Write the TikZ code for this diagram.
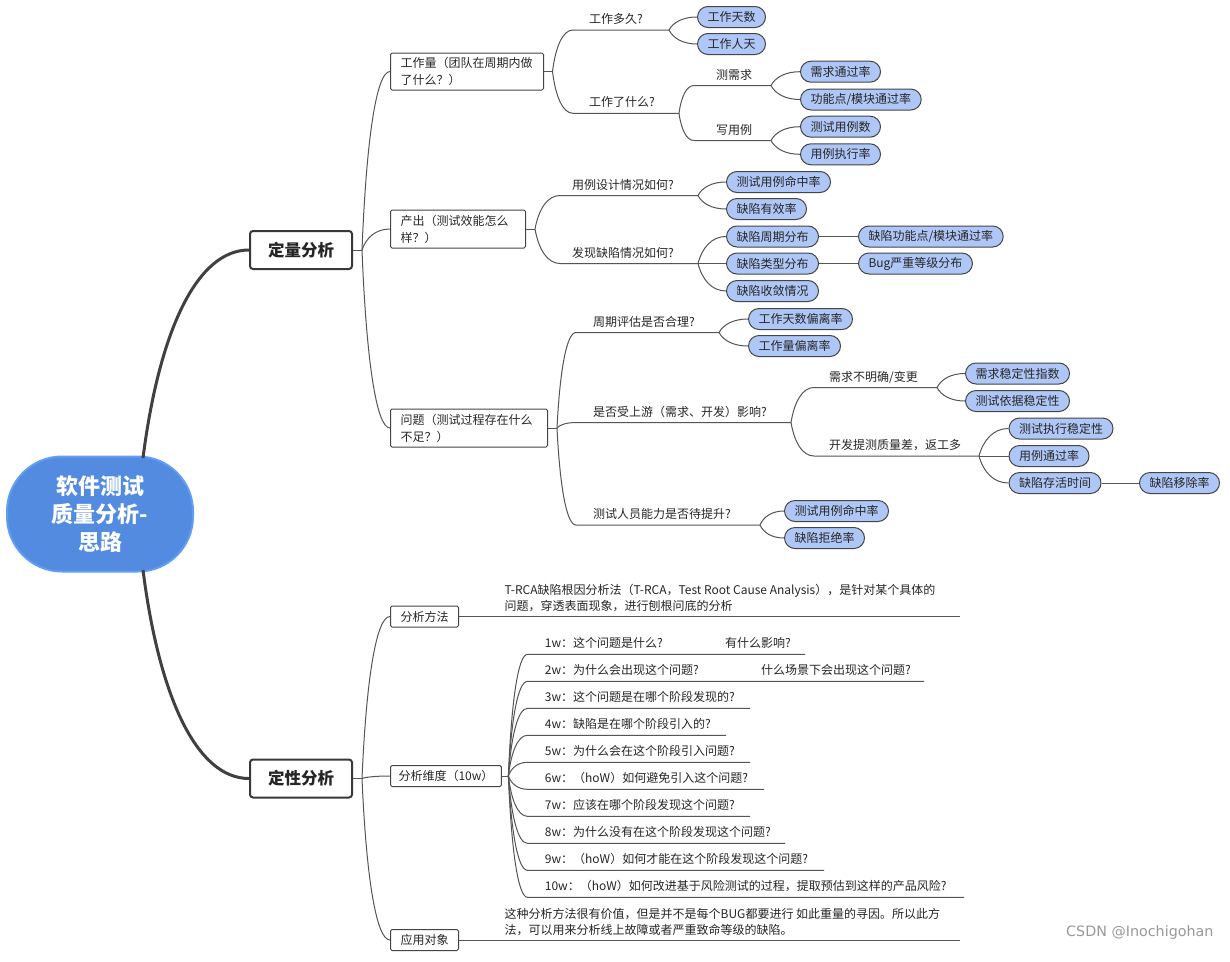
\documentclass[tikz,border=0pt]{standalone}
\usepackage{fontspec}
\setmainfont{Noto Sans CJK SC}
\newfontfamily\wmfont{DejaVu Sans}
\usetikzlibrary{calc}
\definecolor{pillfill}{HTML}{AFC7F7}
\definecolor{linec}{HTML}{555555}
\definecolor{edgec}{HTML}{454545}
\definecolor{rootfill}{HTML}{528BE0}
\definecolor{rootedge}{HTML}{629DF4}
\definecolor{txt}{HTML}{262626}
\tikzset{
  x=1pt, y=-1pt,
  every node/.style={font=\fontsize{12pt}{17pt}\selectfont, text=txt},
  pill/.style={draw=edgec, fill=pillfill, rounded corners=10.5pt, minimum height=21pt,
    inner xsep=10pt, inner ysep=0pt, anchor=west, line width=1pt},
  lbl/.style={anchor=west, inner sep=0pt},
  box/.style={draw=edgec, rounded corners=1.5pt, line width=1pt, align=left,
    inner xsep=10pt, inner ysep=2pt, anchor=west},
  topbox/.style={draw=black!78, fill=white, rounded corners=3pt, line width=2pt,
    font=\fontsize{16.5pt}{20pt}\selectfont\bfseries, minimum width=102pt, minimum height=38pt},
  rootnode/.style={draw=rootedge, fill=rootfill, line width=2pt, rounded corners=55pt,
    minimum width=186pt, minimum height=115pt, text=white, align=center,
    font=\fontsize{22pt}{28pt}\selectfont\bfseries},
  conn/.style={draw=linec, line width=1pt},
  trunk/.style={draw=black!75, line width=3pt},
  curvy/.style={to path={let \p1=(\tikztostart), \p2=(\tikztotarget) in
    .. controls ({\x1+0.15*(\x2-\x1)},{\y1+0.6*(\y2-\y1)}) and ({\x1+0.5*(\x2-\x1)},{\y2}) .. (\tikztotarget)}},
}
\begin{document}
\begin{tikzpicture}
\useasboundingbox (0,0) rectangle (1230,961);
\fill[white] (0,0) rectangle (1230,961);

% ---------- root and level 1 ----------
\node[rootnode] (root) at (100,514) {软件测试\\质量分析-\\思路};
\coordinate (rt) at (143,458);
\coordinate (rb) at (143,570);
\node[topbox] (q1) at (301,250) {定量分析};
\node[topbox] (q2) at (301,778.5) {定性分析};
\draw[trunk] (rt) to[curvy] (q1.west);
\draw[trunk] (rb) to[curvy] (q2.west);

% ---------- level 2 (定量) ----------
\coordinate (j1) at (362,250);
\draw[conn] (q1.east) -- (j1);
\node[box, text width=133pt, minimum height=37pt] (b1) at (390,71.5) {工作量（团队在周期内做\\了什么？）};
\node[box, text width=115pt, minimum height=38pt] (b2) at (390,229) {产出（测试效能怎么\\样？）};
\node[box, text width=137pt, minimum height=38pt] (b3) at (390,428) {问题（测试过程存在什么\\不足？）};
\draw[conn] (j1) to[curvy] (b1.west);
\draw[conn] (j1) to[curvy] (b2.west);
\draw[conn] (j1) to[curvy] (b3.west);

% ---------- 工作量 ----------
\coordinate (j11) at (552.5,71.5);
\draw[conn] (b1.east) -- (j11);
\node[lbl] (l11) at (589,19) {工作多久?};
\coordinate (l11s) at (573,30); \coordinate (l11e) at (669,30);
\draw[conn] (j11) to[curvy] (l11s) -- (l11e);
\node[pill] (p111) at (697,17) {工作天数};
\node[pill] (p112) at (697,44) {工作人天};
\draw[conn] (l11e) to[curvy] (p111.west);
\draw[conn] (l11e) to[curvy] (p112.west);

\node[lbl] (l12) at (589,102) {工作了什么?};
\coordinate (l12s) at (573,113.3); \coordinate (l12e) at (679,113.3);
\draw[conn] (j11) to[curvy] (l12s) -- (l12e);

\node[lbl] (l121) at (716,75) {测需求};
\coordinate (l121s) at (694,85.5); \coordinate (l121e) at (771,85.5);
\draw[conn] (l12e) to[curvy] (l121s) -- (l121e);
\node[pill] (p1211) at (800,71.7) {需求通过率};
\node[pill] (p1212) at (800,99.5) {功能点/模块通过率};
\draw[conn] (l121e) to[curvy] (p1211.west);
\draw[conn] (l121e) to[curvy] (p1212.west);

\node[lbl] (l122) at (716,130) {写用例};
\coordinate (l122s) at (694,140.5); \coordinate (l122e) at (771,140.5);
\draw[conn] (l12e) to[curvy] (l122s) -- (l122e);
\node[pill] (p1221) at (800,126.7) {测试用例数};
\node[pill] (p1222) at (800,154.3) {用例执行率};
\draw[conn] (l122e) to[curvy] (p1221.west);
\draw[conn] (l122e) to[curvy] (p1222.west);

% ---------- 产出 ----------
\coordinate (j12) at (535,229);
\draw[conn] (b2.east) -- (j12);
\node[lbl] (l21) at (572,185) {用例设计情况如何?};
\coordinate (l21s) at (560,195.5); \coordinate (l21e) at (698,195.5);
\draw[conn] (j12) to[curvy] (l21s) -- (l21e);
\node[pill] (p211) at (726,182) {测试用例命中率};
\node[pill] (p212) at (726,209) {缺陷有效率};
\draw[conn] (l21e) to[curvy] (p211.west);
\draw[conn] (l21e) to[curvy] (p212.west);

\node[lbl] (l22) at (572,253) {发现缺陷情况如何?};
\coordinate (l22s) at (560,263.5); \coordinate (l22e) at (698,263.5);
\draw[conn] (j12) to[curvy] (l22s) -- (l22e);
\node[pill] (p221) at (726,236.5) {缺陷周期分布};
\node[pill] (p222) at (726,263.5) {缺陷类型分布};
\node[pill] (p223) at (726,291) {缺陷收敛情况};
\draw[conn] (l22e) to[curvy] (p221.west);
\draw[conn] (l22e) -- (p222.west);
\draw[conn] (l22e) to[curvy] (p223.west);
\node[pill] (p2211) at (858,236.5) {缺陷功能点/模块通过率};
\node[pill] (p2221) at (858,263.5) {Bug严重等级分布};
\draw[conn] (p221.east) -- (p2211.west);
\draw[conn] (p222.east) -- (p2221.west);

% ---------- 问题 ----------
\coordinate (j13) at (557,428);
\draw[conn] (b3.east) -- (j13);
\node[lbl] (l31) at (593,321.5) {周期评估是否合理?};
\coordinate (l31s) at (576,332.5); \coordinate (l31e) at (719,332.5);
\draw[conn] (j13) to[curvy] (l31s) -- (l31e);
\node[pill] (p311) at (748,319) {工作天数偏离率};
\node[pill] (p312) at (748,346) {工作量偏离率};
\draw[conn] (l31e) to[curvy] (p311.west);
\draw[conn] (l31e) to[curvy] (p312.west);

\node[lbl] (l32) at (593,411.5) {是否受上游（需求、开发）影响?};
\coordinate (l32s) at (576,422.5); \coordinate (l32e) at (791,422.5);
\draw[conn] (j13) to[curvy] (l32s) -- (l32e);

\node[lbl] (l321) at (829,377) {需求不明确/变更};
\coordinate (l321s) at (814,387.5); \coordinate (l321e) at (937,387.5);
\draw[conn] (l32e) to[curvy] (l321s) -- (l321e);
\node[pill] (p3211) at (965,373.5) {需求稳定性指数};
\node[pill] (p3212) at (965,401) {测试依据稳定性};
\draw[conn] (l321e) to[curvy] (p3211.west);
\draw[conn] (l321e) to[curvy] (p3212.west);

\node[lbl] (l322) at (829,445) {开发提测质量差，返工多};
\coordinate (l322s) at (814,456); \coordinate (l322e) at (979,456);
\draw[conn] (l32e) to[curvy] (l322s) -- (l322e);
\node[pill] (p3221) at (1008.5,428.5) {测试执行稳定性};
\node[pill] (p3222) at (1008.5,456) {用例通过率};
\node[pill] (p3223) at (1008.5,483) {缺陷存活时间};
\draw[conn] (l322e) to[curvy] (p3221.west);
\draw[conn] (l322e) -- (p3222.west);
\draw[conn] (l322e) to[curvy] (p3223.west);
\node[pill] (p32231) at (1139,483) {缺陷移除率};
\draw[conn] (p3223.east) -- (p32231.west);

\node[lbl] (l33) at (593,514) {测试人员能力是否待提升?};
\coordinate (l33s) at (576,525); \coordinate (l33e) at (760,525);
\draw[conn] (j13) to[curvy] (l33s) -- (l33e);
\node[pill] (p331) at (784,511) {测试用例命中率};
\node[pill] (p332) at (784,538) {缺陷拒绝率};
\draw[conn] (l33e) to[curvy] (p331.west);
\draw[conn] (l33e) to[curvy] (p332.west);

% ---------- 定性 ----------
\coordinate (j2) at (362,778.5);
\draw[conn] (q2.east) -- (j2);
\node[box, minimum height=21pt, inner ysep=0pt] (b4) at (390,616.5) {分析方法};
\node[box, minimum height=21pt, inner ysep=0pt, inner xsep=8pt] (b5) at (390,776) {分析维度（10w）};
\node[box, minimum height=21pt, inner ysep=0pt] (b6) at (390,940) {应用对象};
\draw[conn] (j2) to[curvy] (b4.west);
\draw[conn] (j2) to[curvy] (b5.west);
\draw[conn] (j2) to[curvy] (b6.west);

\coordinate (b4e) at (960,616.5);
\draw[conn] (b4.east) -- (b4e);
\node[anchor=west, inner sep=0pt, align=left, font=\fontsize{12pt}{16pt}\selectfont] (t4) at (504.5,598)
  {T-RCA缺陷根因分析法（T-RCA，Test Root Cause Analysis），是针对某个具体的\\问题，穿透表面现象，进行刨根问底的分析};

\coordinate (b6e) at (960,940);
\draw[conn] (b6.east) -- (b6e);
\node[anchor=west, inner sep=0pt, align=left, font=\fontsize{12pt}{16pt}\selectfont] (t6) at (504.5,922)
  {这种分析方法很有价值，但是并不是每个BUG都要进行 如此重量的寻因。所以此方\\法，可以用来分析线上故障或者严重致命等级的缺陷。};

\coordinate (j5) at (508.4,776);
\draw[conn] (b5.east) -- (j5);

\node[lbl] (w1) at (544.7,643.3) {1w：这个问题是什么?};
\coordinate (w1s) at (527.5,654.3); \coordinate (w1e) at (805,654.3);
\draw[conn] (j5) to[curvy] (w1s) -- (w1e);
\node[lbl] (w1b) at (725,643.3) {有什么影响?};

\node[lbl] (w2) at (544.7,670.3) {2w：为什么会出现这个问题?};
\coordinate (w2s) at (527.5,681.3); \coordinate (w2e) at (924,681.3);
\draw[conn] (j5) to[curvy] (w2s) -- (w2e);
\node[lbl] (w2b) at (761,670.3) {什么场景下会出现这个问题?};

\node[lbl] (w3) at (544.7,697.3) {3w：这个问题是在哪个阶段发现的?};
\coordinate (w3s) at (527.5,708.3); \coordinate (w3e) at (750,708.3);
\draw[conn] (j5) to[curvy] (w3s) -- (w3e);

\node[lbl] (w4) at (544.7,724.3) {4w：缺陷是在哪个阶段引入的?};
\coordinate (w4s) at (527.5,735.3); \coordinate (w4e) at (726,735.3);
\draw[conn] (j5) to[curvy] (w4s) -- (w4e);

\node[lbl] (w5) at (544.7,751.3) {5w：为什么会在这个阶段引入问题?};
\coordinate (w5s) at (527.5,762.3); \coordinate (w5e) at (750,762.3);
\draw[conn] (j5) to[curvy] (w5s) -- (w5e);

\node[lbl] (w6) at (544.7,778.3) {6w：（hoW）如何避免引入这个问题?};
\coordinate (w6s) at (527.5,789.3); \coordinate (w6e) at (764,789.3);
\draw[conn] (j5) to[curvy] (w6s) -- (w6e);

\node[lbl] (w7) at (544.7,805.3) {7w：应该在哪个阶段发现这个问题?};
\coordinate (w7s) at (527.5,816.3); \coordinate (w7e) at (750,816.3);
\draw[conn] (j5) to[curvy] (w7s) -- (w7e);

\node[lbl] (w8) at (544.7,832.3) {8w：为什么没有在这个阶段发现这个问题?};
\coordinate (w8s) at (527.5,843.3); \coordinate (w8e) at (785,843.3);
\draw[conn] (j5) to[curvy] (w8s) -- (w8e);

\node[lbl] (w9) at (544.7,859.3) {9w：（hoW）如何才能在这个阶段发现这个问题?};
\coordinate (w9s) at (527.5,870.3); \coordinate (w9e) at (824,870.3);
\draw[conn] (j5) to[curvy] (w9s) -- (w9e);

\node[lbl] (w10) at (544.7,886.3) {10w：（hoW）如何改进基于风险测试的过程，提取预估到这样的产品风险?};
\coordinate (w10s) at (527.5,897.3); \coordinate (w10e) at (964,897.3);
\draw[conn] (j5) to[curvy] (w10s) -- (w10e);

% watermark
\node[anchor=west, inner sep=0pt, text=black!40, font=\wmfont\fontsize{14.3pt}{16pt}\selectfont] (wm) at (1066,933) {CSDN @Inochigohan};
\end{tikzpicture}
\end{document}
